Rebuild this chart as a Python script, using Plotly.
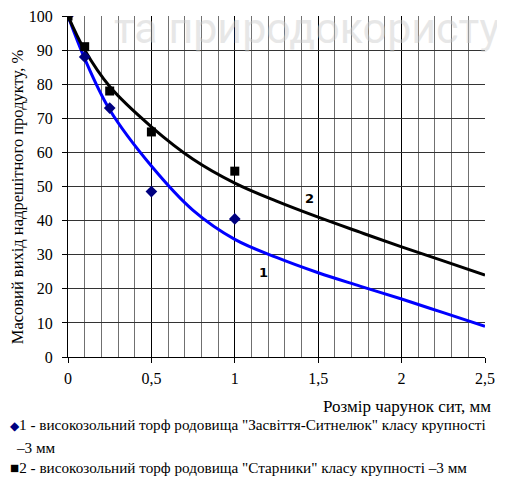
import plotly.graph_objects as go

# measured points
x_pts = [0, 0.1, 0.25, 0.5, 1.0]
y1_pts = [100, 88, 73, 48.5, 40.5]
y2_pts = [100, 91, 78, 66, 54.5]

# trend curves
x_curve = [0, 0.1, 0.25, 0.5, 0.75, 1.0, 1.25, 1.5, 1.75, 2.0, 2.25, 2.5]
y1_curve = [100, 87.5, 72.5, 56, 43, 34.5, 29.2, 24.7, 20.8, 17, 13, 9]
y2_curve = [100, 90, 79.3, 67.5, 58, 51, 45.7, 41, 36.6, 32.3, 28.2, 24]

x_tickvals = [0, 0.5, 1, 1.5, 2, 2.5]
x_ticktext = ["0", "0,5", "1", "1,5", "2", "2,5"]
y_tickvals = [0, 10, 20, 30, 40, 50, 60, 70, 80, 90, 100]

y_title = "Масовий вихід надрешітного продукту, %"
x_title = "Розмір чарунок сит, мм"
legend1a = '1 - високозольний торф родовища "Засвіття-Ситнелюк" класу крупності'
legend1b = '–3 мм'
legend2 = '2 - високозольний торф родовища "Старники" класу крупності –3 мм'
watermark = "та природокористу"

serif = "Liberation Serif, Times New Roman, serif"

fig = go.Figure()
fig.add_trace(go.Scatter(x=x_curve, y=y1_curve, mode="lines", line=dict(color="#0000ff", width=3, shape="spline"),
                         showlegend=False, hoverinfo="skip"))
fig.add_trace(go.Scatter(x=x_curve, y=y2_curve, mode="lines", line=dict(color="#000000", width=3, shape="spline"),
                         showlegend=False, hoverinfo="skip"))
fig.add_trace(go.Scatter(x=x_pts, y=y1_pts, mode="markers", showlegend=False,
                         marker=dict(symbol="diamond", color="#000080", size=9)))
fig.add_trace(go.Scatter(x=x_pts, y=y2_pts, mode="markers", showlegend=False,
                         marker=dict(symbol="square", color="#000000", size=9)))

# page has an 8px body margin, so the figure is laid out 8px left/up of the target
fig.update_layout(
    width=505, height=477,
    margin=dict(l=60, r=28, t=8, b=128),
    paper_bgcolor="white", plot_bgcolor="white",
    font=dict(family=serif, size=15, color="black"),
    showlegend=False,
    xaxis=dict(range=[0, 2.5], tickvals=x_tickvals, ticktext=x_ticktext, automargin=False,
               ticklabeloverflow="allow", ticklabelstandoff=2,
               showgrid=True, gridcolor="#000000", gridwidth=1,
               minor=dict(dtick=0.1, tick0=0, showgrid=True, gridcolor="#707070", gridwidth=1),
               showline=True, linecolor="black", linewidth=1,
               ticks="outside", ticklen=5, tickcolor="black",
               zeroline=False, tickfont=dict(family=serif, size=16)),
    yaxis=dict(range=[0, 100], tickvals=y_tickvals, automargin=False,
               ticklabeloverflow="allow", ticklabelstandoff=6,
               showgrid=True, gridcolor="#333333", gridwidth=1,
               showline=True, linecolor="black", linewidth=1,
               ticks="outside", ticklen=5, tickcolor="black",
               zeroline=False, tickfont=dict(family=serif, size=16)),
)

fig.add_annotation(text=y_title, xref="paper", yref="paper", x=-0.121, y=0.47, textangle=-90,
                   xanchor="center", yanchor="middle", showarrow=False, font=dict(family=serif, size=16.5))
fig.add_annotation(text=x_title, xref="paper", yref="paper", x=1.02, y=-0.144,
                   xanchor="right", yanchor="middle", showarrow=False, font=dict(family=serif, size=17))
fig.add_annotation(text='<span style="color:#000080; font-size:12px">◆</span>' + legend1a, xref="paper", yref="paper",
                   x=-0.144, y=-0.199, xanchor="left", yanchor="middle", showarrow=False,
                   font=dict(family=serif, size=15.2))
fig.add_annotation(text=legend1b, xref="paper", yref="paper",
                   x=-0.13, y=-0.264, xanchor="left", yanchor="middle", showarrow=False,
                   font=dict(family=serif, size=15.2))
fig.add_annotation(text='■' + legend2, xref="paper", yref="paper",
                   x=-0.144, y=-0.323, xanchor="left", yanchor="middle", showarrow=False,
                   font=dict(family=serif, size=15.2))
fig.add_annotation(text="<b>2</b>", x=1.45, y=46.6, showarrow=False,
                   font=dict(family="DejaVu Sans, sans-serif", size=13))
fig.add_annotation(text="<b>1</b>", x=1.17, y=24.9, showarrow=False,
                   font=dict(family="DejaVu Sans, sans-serif", size=13))
fig.add_annotation(text=watermark, xref="paper", yref="paper", x=1.04, y=0.965,
                   xanchor="right", yanchor="middle", showarrow=False, opacity=0.45,
                   font=dict(family="Roboto, sans-serif", size=43, color="#cccccc"))

fig.write_html("out.html")
